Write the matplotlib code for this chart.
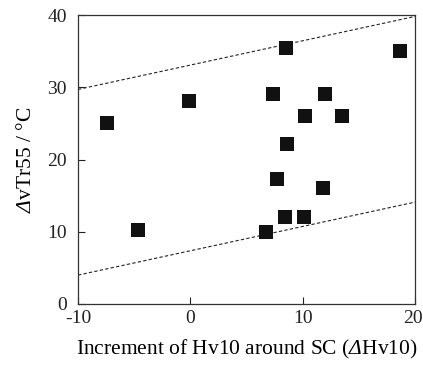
import matplotlib
matplotlib.use("Agg")
import matplotlib.pyplot as plt
import matplotlib.transforms as mtransforms
import numpy as np

plt.rcParams['font.family'] = ['Liberation Serif', 'DejaVu Serif']
plt.rcParams['mathtext.fontset'] = 'custom'
plt.rcParams['mathtext.rm'] = 'Liberation Serif:italic'
plt.rcParams['mathtext.it'] = 'Liberation Serif:italic'
plt.rcParams['axes.unicode_minus'] = False

# data
dhv10 = [-7.4, -4.7, -0.1, 7.4, 8.5, 18.7, 12.0, 10.2, 13.5, 8.6, 7.7, 11.8, 8.4, 10.1, 6.7]
dvtr55 = [25.1, 10.3, 28.1, 29.1, 35.4, 35.0, 29.1, 26.0, 26.0, 22.1, 17.3, 16.1, 12.1, 12.1, 9.9]
band_x = [-10, 20]
upper_band = [29.7, 39.8]
lower_band = [4.0, 14.1]
xticks = [-10, 0, 10, 20]
yticks = [0, 10, 20, 30, 40]

fig = plt.figure(figsize=(4.23, 3.69), dpi=100)
ax = fig.add_axes([78/423, 65/369, 337/423, 289/369])

ax.plot(band_x, upper_band, linestyle=(0, (3, 2)), color='#222222', lw=0.8)
ax.plot(band_x, lower_band, linestyle=(0, (3, 2)), color='#222222', lw=0.8)
ax.scatter(dhv10, dvtr55, marker='s', s=95, color='#111111', zorder=3, linewidths=0)

ax.set_xlim(-10, 20)
ax.set_ylim(0, 40)
ax.set_xticks(xticks)
ax.set_yticks(yticks)
ax.tick_params(direction='in', length=5, width=0.8, labelsize=14, colors='#222222')
ax.tick_params(axis='y', pad=8)
ax.tick_params(axis='x', pad=4)
for side in ['top', 'right', 'left', 'bottom']:
    ax.spines[side].set_color('#333333')
    ax.spines[side].set_linewidth(0.9)

last = ax.xaxis.get_major_ticks()[-1].label1
last.set_transform(last.get_transform() + mtransforms.ScaledTranslation(-2.5/100, 0, fig.dpi_scale_trans))

ax.set_xlabel(r'Increment of Hv10 around SC ($\Delta$Hv10)', fontsize=15.5, labelpad=8)
ax.set_ylabel(r'$\Delta$vTr55 / °C', fontsize=15.5, labelpad=8)

fig.savefig('out.png', dpi=100)
